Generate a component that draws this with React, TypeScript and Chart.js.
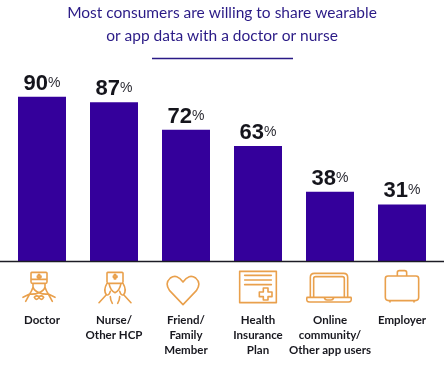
import React, { useEffect, useRef } from "react";
import { Chart, registerables } from "chart.js";

Chart.register(...registerables);

const categories = [
  "Doctor",
  ["Nurse/", "Other HCP"],
  ["Friend/", "Family", "Member"],
  ["Health", "Insurance", "Plan"],
  ["Online", "community/", "Other app users"],
  "Employer",
];
const values = [90, 87, 72, 63, 38, 31];
const titleLines = ["Most consumers are willing to share wearable", "or app data with a doctor or nurse"];

const BAR = "#34009b";
const ORANGE = "#e9a04c";
const NAVY = "#2a1a86";

// Icons: outlines in a 3x grid, x relative to the icon centre, y from the icon row top.
const iconPaths: { dx: number; d: string }[] = [
  {
    dx: -3,
    d: "M-22 17 Q-24 17 -24 20 V45 Q-24 50 -20 50 H20 Q24 50 24 45 V20 Q24 17 21 17 Z M-24 38 H24 M-5 28 H-2 V24 H2 V28 H6 V32 H2 V37 H-2 V32 H-5 Z M-18 50 V60 Q-16 72 0 78 Q16 72 18 60 V50 M-18 62 Q-22 74 -28 82 M18 62 Q22 74 28 82 M-28 82 L-48 92 M-28 82 L-40 104 M-28 82 Q-14 84 0 78 M28 82 L48 92 M28 82 L40 104 M28 82 Q14 84 0 78 M-14 92 Q-8 84 0 90 Q8 84 14 92 Q8 104 0 92 Q-8 104 -14 92",
  },
  {
    dx: 1,
    d: "M-22 17 Q-24 17 -24 20 V45 Q-24 50 -20 50 H20 Q24 50 24 45 V20 Q24 17 21 17 Z M-5 28 H-2 V24 H2 V28 H6 V32 H2 V37 H-2 V32 H-5 Z M-18 50 Q-14 72 0 78 Q14 72 18 50 M-24 50 Q-36 70 -26 84 Q-18 88 -14 74 M24 50 Q36 70 26 84 Q18 88 14 74 M-26 84 L-48 108 M26 84 L48 108 M-14 90 Q-14 100 -8 110 M14 90 Q14 100 8 110",
  },
  {
    dx: -3,
    d: "M0 114 L-40 72 Q-56 50 -38 34 Q-18 20 0 46 Q18 20 38 34 Q56 50 40 72 Z",
  },
  {
    dx: 0,
    d: "M-55 14 H55 V108 H-55 Z M-40 26 H40 M-40 40 H40 M-40 54 H40 M4 76 H16 V64 H30 V76 H42 V90 H30 V100 H16 V90 H4 Z",
  },
  {
    dx: -1,
    d: "M-56 92 V32 Q-56 20 -44 20 H44 Q56 20 56 32 V92 M-46 92 V36 Q-46 30 -40 30 H40 Q46 30 46 36 V92 M-66 92 H66 Q70 106 58 106 H-58 Q-70 106 -66 92 M-14 94 Q-12 100 -6 100 H6 Q12 100 14 94",
  },
  {
    dx: 0,
    d: "M-42 28 H42 Q50 28 50 36 V92 Q50 102 40 102 H-40 Q-50 102 -50 92 V36 Q-50 28 -42 28 Z M-14 28 V18 Q-14 12 -8 12 H8 Q14 12 14 18 V28 M-36 102 V106 M36 102 V106",
  },
];

const decor = {
  id: "decor",
  afterDatasetsDraw(chart: any) {
    const { ctx } = chart;
    const x = chart.scales.x;
    const y = chart.scales.y;
    ctx.save();
    // axis baseline
    ctx.strokeStyle = "#1c1c24";
    ctx.lineWidth = 1.6;
    ctx.beginPath();
    ctx.moveTo(0, y.getPixelForValue(0) + 0.5);
    ctx.lineTo(chart.width, y.getPixelForValue(0) + 0.5);
    ctx.stroke();
    // rule under title
    ctx.strokeStyle = NAVY;
    ctx.lineWidth = 1.4;
    ctx.beginPath();
    ctx.moveTo(152, 58.5);
    ctx.lineTo(293, 58.5);
    ctx.stroke();
    // value labels
    ctx.textBaseline = "alphabetic";
    ctx.textAlign = "left";
    const bars = chart.getDatasetMeta(0).data;
    values.forEach((v, i) => {
      const numFont = "bold 22px 'Liberation Sans'";
      const pctFont = "14px 'Liberation Sans'";
      ctx.font = numFont;
      const nw = ctx.measureText(String(v)).width;
      ctx.font = pctFont;
      const pw = ctx.measureText("%").width;
      const left = bars[i].x - (nw + pw) / 2;
      const base = bars[i].y - 7;
      ctx.fillStyle = "#15151c";
      ctx.font = numFont;
      ctx.fillText(String(v), left, base);
      ctx.fillStyle = "#2b2b33";
      ctx.font = pctFont;
      ctx.fillText("%", left + nw, base - 3);
    });
    // icons
    ctx.strokeStyle = ORANGE;
    ctx.lineJoin = "round";
    ctx.lineCap = "round";
    iconPaths.forEach((ic, i) => {
      ctx.save();
      ctx.translate(x.getPixelForValue(i) + ic.dx, 250 + 50 / 3);
      ctx.scale(1 / 3, 1 / 3);
      ctx.lineWidth = 4.8;
      ctx.stroke(new Path2D(ic.d));
      ctx.restore();
    });
    ctx.restore();
  },
};

export default function App() {
  const ref = useRef<HTMLCanvasElement>(null);
  useEffect(() => {
    const chart = new Chart(ref.current!, {
      type: "bar",
      data: {
        labels: categories as any,
        datasets: [
          {
            data: values,
            backgroundColor: BAR,
            barPercentage: 1,
            categoryPercentage: 48 / 72,
          },
        ],
      },
      plugins: [decor],
      options: {
        responsive: false,
        animation: false,
        layout: { padding: { left: 6, right: 6, top: 0, bottom: 0 } },
        plugins: {
          legend: { display: false },
          tooltip: { enabled: false },
          title: {
            display: true,
            text: titleLines,
            color: NAVY,
            font: { family: "Lato", size: 15.5, weight: "normal", lineHeight: 1.47 },
            padding: { top: 2, bottom: 31 },
          },
        },
        scales: {
          x: {
            grid: { display: false, drawTicks: false },
            border: { display: false },
            afterFit(scale: any) {
              scale.height = 104;
              scale.paddingLeft = 0;
              scale.paddingRight = 0;
            },
            ticks: {
              autoSkip: false,
              maxRotation: 0,
              minRotation: 0,
              padding: 52,
              color: "#18181f",
              font: { family: "Lato", size: 11.5, weight: "bold", lineHeight: 1.3 },
            },
          },
          y: { display: false, min: 0, max: 100 },
        },
      },
    });
    return () => chart.destroy();
  }, []);
  return (
    <canvas
      ref={ref}
      width={444}
      height={365}
      style={{ position: "absolute", left: 0, top: 0, width: 444, height: 365, display: "block" }}
    />
  );
}
